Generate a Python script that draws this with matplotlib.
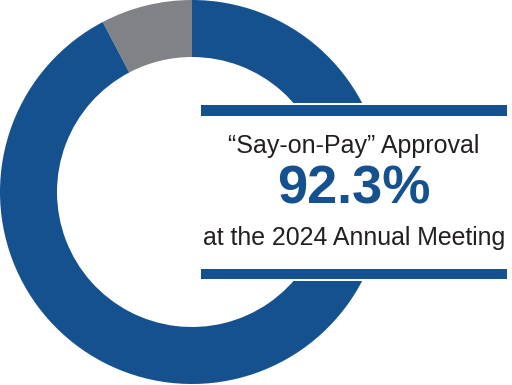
import matplotlib
matplotlib.use("Agg")
import matplotlib.pyplot as plt
from matplotlib.patches import Rectangle

# vote shares (percent)
labels = ["Against/Other", "For"]
shares = [7.7, 92.3]
headline = "92.3%"
title_text = "\u201cSay-on-Pay\u201d Approval"
sub_text = "at the 2024 Annual Meeting"

BLUE = "#15518e"
GRAY = "#808285"
W, H = 512, 385

fig = plt.figure(figsize=(W / 100, H / 100), dpi=100)
ax = fig.add_axes([0, 0, 1, 1])

ax.pie(
    shares,
    colors=[GRAY, BLUE],
    startangle=90,
    counterclock=True,
    radius=192,
    center=(192, H - 192),
    wedgeprops=dict(width=57, linewidth=0),
    frame=True,
)
ax.set_xlim(0, W)
ax.set_ylim(0, H)
ax.set_aspect("equal")
ax.axis("off")


def py(y):
    # convert a pixel row (from top) to data y
    return H - y


# white panel covering the right side of the ring
ax.add_patch(Rectangle((201, py(281)), 306, 178, facecolor="white", edgecolor="none", zorder=3))
# top and bottom rules
ax.add_patch(Rectangle((201, py(116)), 306, 11, facecolor=BLUE, edgecolor="none", zorder=4))
ax.add_patch(Rectangle((201, py(279)), 306, 10, facecolor=BLUE, edgecolor="none", zorder=4))

font = ["Liberation Sans", "DejaVu Sans"]
cx = 354
ax.text(cx, py(146), title_text, ha="center", va="center", fontsize=18,
        color="#231f20", family=font, zorder=5)
ax.text(cx, py(190), headline, ha="center", va="center", fontsize=39,
        fontweight="bold", color=BLUE, family=font, zorder=5)
ax.text(cx, py(238), sub_text, ha="center", va="center", fontsize=17.9,
        color="#231f20", family=font, zorder=5)

fig.savefig("out.png", dpi=100)
